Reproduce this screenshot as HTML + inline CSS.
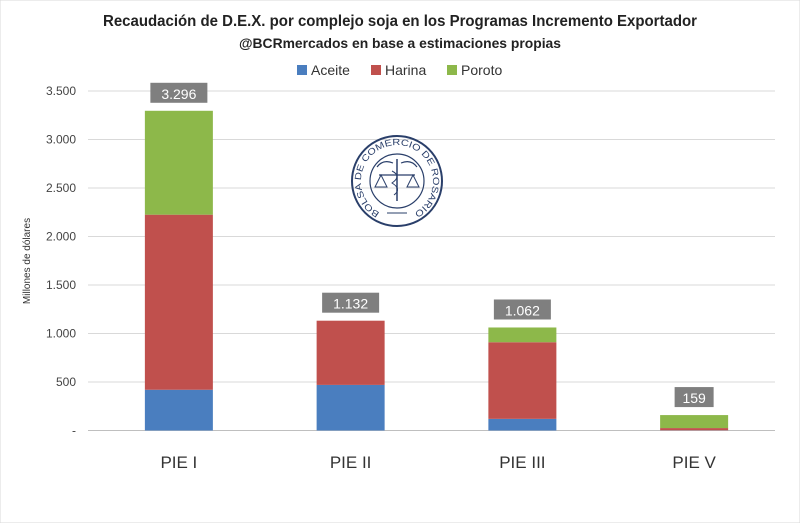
<!DOCTYPE html>
<html><head><meta charset="utf-8"><style>
body{margin:0;background:#fff;width:800px;height:523px;overflow:hidden;font-family:"Liberation Sans",sans-serif}
</style></head><body>
<svg id="chart" width="800" height="523" xmlns="http://www.w3.org/2000/svg" font-family="Liberation Sans, sans-serif">
<rect width="800" height="523" fill="#fff" stroke="#d9d9d9"/>
<text x="400" y="26" text-anchor="middle" font-size="16" font-weight="bold" fill="#222" textLength="594" lengthAdjust="spacingAndGlyphs">Recaudación de D.E.X. por complejo soja en los Programas Incremento Exportador</text>
<text x="400" y="48" text-anchor="middle" font-size="14" font-weight="bold" fill="#222" textLength="322" lengthAdjust="spacingAndGlyphs">@BCRmercados en base a estimaciones propias</text>
<g id="legend"></g>
<g id="grid"></g>
<text transform="translate(30,261) rotate(-90)" text-anchor="middle" font-size="10" fill="#333">Millones de dólares</text>
<g id="logo" transform="translate(397,181)" fill="none" stroke="#2a3f6a">
<circle r="45" stroke-width="2"/>
<circle r="27" stroke-width="1.2"/>
<defs><path id="lp" d="M -20 30 A 36 36 0 1 1 20 30"/></defs>
<text font-size="9" fill="#2a3f6a" stroke="none"><textPath href="#lp" startOffset="50%" text-anchor="middle" textLength="190" lengthAdjust="spacingAndGlyphs">BOLSA DE COMERCIO DE ROSARIO</textPath></text>
<line x1="0" y1="-22" x2="0" y2="20" stroke-width="1.5"/>
<line x1="-18" y1="-6" x2="18" y2="-6" stroke-width="1.2"/>
<path d="M-22 6 L-16 -6 L-10 6 Z M10 6 L16 -6 L22 6 Z" stroke-width="1"/>
<path d="M-4 -18 Q-14 -22 -20 -14 M4 -18 Q14 -22 20 -14" stroke-width="1.2"/>
<path d="M-5 -10 Q5 -5 -5 2 Q5 8 -3 14" stroke-width="1"/>
<line x1="-10" y1="32" x2="10" y2="32" stroke-width="1"/>
</g>
<g id="bars"></g>
</svg>
<script>
const categories=["PIE I","PIE II","PIE III","PIE V"];
const aceite=[420,470,120,2];
const harina=[1805,662,790,23];
const poroto=[1071,0,152,134];
const totals=["3.296","1.132","1.062","159"];
const yTicks=[0,500,1000,1500,2000,2500,3000,3500];
const yTickLabels=["-","500","1.000","1.500","2.000","2.500","3.000","3.500"];
const seriesNames=["Aceite","Harina","Poroto"];
const colors=["#4a7ebf","#c0504d","#8db84a"];
const NS="http://www.w3.org/2000/svg";
const x0=88,x1=775,y0=430.5,yTop=91,maxV=3500;
const y=v=>y0-(v/maxV)*(y0-yTop);
const band=(x1-x0)/categories.length;
const xc=i=>x0+band*(i+0.5)+5;
function mk(t,a,p){const e=document.createElementNS(NS,t);for(const k in a)e.setAttribute(k,a[k]);p.appendChild(e);return e;}
const grid=document.getElementById('grid');
yTicks.forEach((v,i)=>{
 const l=mk('line',{x1:x0,x2:x1,y1:y(v),y2:y(v),stroke:i?'#d9d9d9':'#bfbfbf','stroke-width':1},grid);
 
 
 const t=mk('text',{x:76,y:y(v)+4,'text-anchor':'end','font-size':12,fill:'#444'},grid);
 t.textContent=yTickLabels[i];
 
 
});
const bars=document.getElementById('bars');
const series=[aceite,harina,poroto];
categories.forEach((c,i)=>{
 let acc=0;const w=68;
 series.forEach((s,k)=>{
  const v=s[i];if(v<=0)return;
  const r=mk('rect',{x:xc(i)-w/2,y:y(acc+v),width:w,height:y(acc)-y(acc+v),fill:colors[k]},bars);
  
  
  acc+=v;
 });
 const lx=xc(i),ly=y(acc)-10;
 const bw=totals[i].length*9+12;
 const b=mk('rect',{x:lx-bw/2,y:ly-18,width:bw,height:20,fill:'#7f7f7f'},bars);
 
 
 const t=mk('text',{x:lx,y:ly-2,'text-anchor':'middle','font-size':14,fill:'#fff'},bars);
 t.textContent=totals[i];
 
 
 const ct=mk('text',{x:lx,y:468,'text-anchor':'middle','font-size':17,fill:'#333'},bars);
 ct.textContent=c;
 
 
});
const lg=document.getElementById('legend');
const lx=[297,371,447];
seriesNames.forEach((n,k)=>{
 const r=mk('rect',{x:lx[k],y:65,width:10,height:10,fill:colors[k]},lg);
 
 
 const t=mk('text',{x:lx[k]+14,y:75,'font-size':14,fill:'#333'},lg);
 t.textContent=n;
 
 
});
</script>
</body></html>
